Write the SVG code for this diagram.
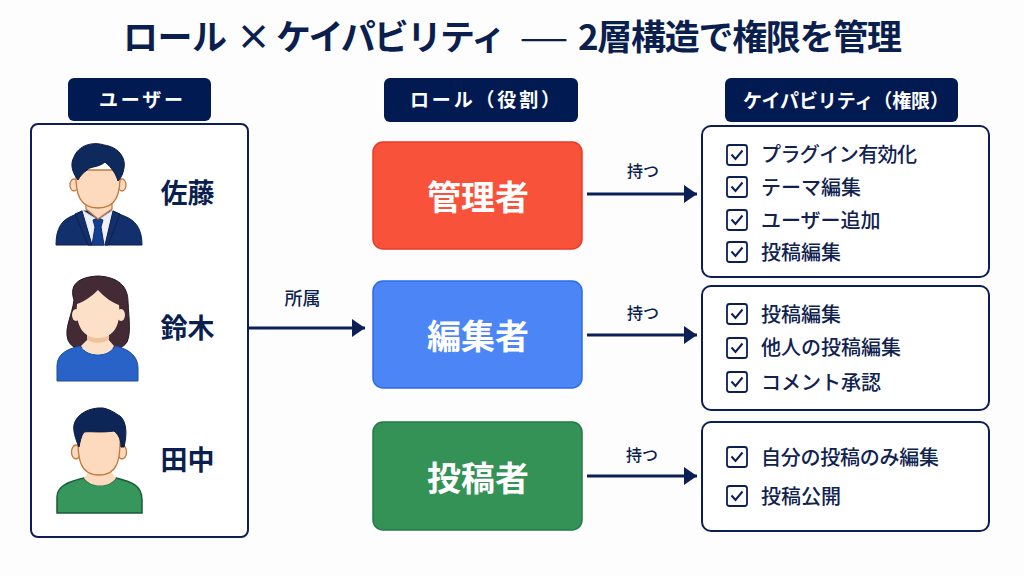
<svg xmlns="http://www.w3.org/2000/svg" width="1024" height="576" viewBox="0 0 1024 576">
<style>
text{font-family:"Noto Sans CJK JP","Noto Sans",sans-serif;font-weight:700}
.hd{fill:#021a52}
.hdt{fill:#fff;font-size:19px;text-anchor:middle}
.panel{fill:#fff;stroke:#0b1f56;stroke-width:2}
.name{fill:#0b1f4f;font-size:27px;text-anchor:middle}
.role{fill:#fff;font-size:34px;text-anchor:middle}
.lbl{fill:#0b1f4f;font-size:16px;font-weight:500;text-anchor:middle}
.item{fill:#0f2250;font-size:20px;font-weight:500}
.cb{fill:#fff;stroke:#0b1f56;stroke-width:1.8}
.ck{fill:none;stroke:#0b1f56;stroke-width:2}
.line{stroke:#0b1f56;stroke-width:3;fill:none}
.skin{fill:#fdd9bd;stroke:#c27a3e;stroke-width:1.3}
</style>
<defs>
<marker id="arrow" markerUnits="userSpaceOnUse" markerWidth="14" markerHeight="18" refX="13" refY="9" orient="auto"><path d="M0 0L13 9L0 18Z" fill="#0b1f56"/></marker>
<g id="check"><rect class="cb" x="-10" y="-10" width="20" height="20" rx="2.5"/><path class="ck" d="M-5.5 -0.5L-1.5 4L5.5 -4.5"/></g>
</defs>
<rect width="1024" height="576" fill="#fdfdfe"/>
<g id="title" fill="#0b1f4f" font-size="35">
<text x="123" y="50" textLength="104">ロール</text>
<text x="236" y="50">×</text>
<text x="276" y="50" textLength="230">ケイパビリティ</text>
<text x="519" y="50" textLength="50" lengthAdjust="spacingAndGlyphs" style="font-weight:400">—</text>
<text x="578" y="50" textLength="324">2層構造で権限を管理</text>
</g>

<g id="header-users"><rect class="hd" x="68" y="78" width="143" height="43" rx="6"/><text class="hdt" x="141" y="107" textLength="84">ユーザー</text></g>
<g id="header-roles"><rect class="hd" x="384" y="78" width="194" height="44" rx="6"/><text class="hdt" x="485" y="107" textLength="150">ロール（役割）</text></g>
<g id="header-caps"><rect class="hd" x="725" y="78" width="233" height="44" rx="6"/><text class="hdt" x="846" y="108" textLength="206">ケイパビリティ（権限）</text></g>

<g id="users-panel"><rect class="panel" x="31" y="124" width="217" height="413" rx="7"/></g>

<g id="user-sato">
<path d="M56 245C56 228 62 220 72 216L84 211H112L124 216C135 220 142 228 142 245Z" fill="#12306b" stroke="#0b1f4f"/>
<path d="M82 210L98 220L113 210L116 217L105 245H92L79 217Z" fill="#eef1fb" stroke="#b9c4e0"/>
<path d="M93 220L98 218L103 220L101 227L104 245H92L95 227Z" fill="#123f90" stroke="#0b2a6a"/>
<path d="M75 214L82 211L92 245H88ZM120 214L113 211L105 245H108Z" fill="#12306b" stroke="#0b1f4f"/>
<path d="M86 197H112V209L98 219L86 209Z" class="skin"/>
<ellipse cx="74" cy="185" rx="4" ry="6" class="skin"/><ellipse cx="122" cy="185" rx="4" ry="6" class="skin"/>
<path d="M76 170C75 195 80 208 98 208C116 208 121 195 120 170Z" class="skin"/>
<path d="M78 180C72 172 70 164 74 157C78 146 92 141 104 145C118 147 126 157 124 168C123 174 121 178 118 181C116 174 112 168 105 162C98 168 90 166 87 170C83 173 80 176 78 180Z" fill="#0e2a5c" stroke="#0b1a3e"/>
</g>
<text class="name" x="187.500" y="203">佐藤</text>

<g id="user-suzuki">
<path d="M74 300C69 285 78 277 98 276C118 277 128 286 128 302C129 320 131 333 127 342C122 350 112 350 108 345H88C80 350 72 349 68 340C64 328 72 316 74 300Z" fill="#432a34" stroke="#1f1720"/>
<path d="M57 381V366C57 354 67 349 80 346C88 358 108 358 115 346C129 349 138 356 138 368V381Z" fill="#2a63c8" stroke="#1d4c9a"/>
<path d="M81 346C88 357 108 357 114 346L108 339H88Z" fill="#fde0c8"/>
<path d="M87 332H109V339C105 344 91 344 87 339Z" fill="#f3c29c"/>
<ellipse cx="76" cy="315" rx="4" ry="6" fill="#fde0c8"/><ellipse cx="121" cy="315" rx="4" ry="6" fill="#fde0c8"/>
<path d="M77 304C84 302 92 296 98 290C104 297 113 303 119 305C121 325 114 338 98 338C83 338 75 325 77 304Z" fill="#fde0c8"/>
</g>
<text class="name" x="187.500" y="338">鈴木</text>

<g id="user-tanaka">
<path d="M57 513V497C57 487 66 482 84 478C90 487 110 487 116 478C134 482 142 487 142 500V513Z" fill="#36965c" stroke="#1b5a38" stroke-width="1.500"/>
<path d="M84 478C90 488 110 488 116 478L110 470H90Z" fill="#fcd9bf"/>
<ellipse cx="76" cy="452" rx="4.500" ry="7" class="skin"/><ellipse cx="122" cy="452" rx="4.500" ry="7" class="skin"/>
<path d="M78 430C77 460 80 475 99 475C118 475 121 460 120 430Z" class="skin"/>
<path d="M79 447C75 438 73 430 74 425C76 414 90 407 103 408C112 410 116 414 120 416C127 422 127 435 124 447H121C121 440 119 435 114 431C101 433 90 431 84 432C81 436 80 442 79 447Z" fill="#0e2558" stroke="#0b1a3e"/>
</g>
<text class="name" x="187.500" y="470">田中</text>

<g id="role-admin"><rect x="373" y="142" width="209" height="107" rx="10" fill="#f9523b" stroke="#e83a28" stroke-width="1.500"/><text class="role" x="478" y="210">管理者</text></g>
<g id="role-editor"><rect x="373" y="281" width="209" height="107" rx="10" fill="#4b85f6" stroke="#2f6ae8" stroke-width="1.500"/><text class="role" x="478" y="349">編集者</text></g>
<g id="role-author"><rect x="373" y="422" width="209" height="108" rx="10" fill="#349257" stroke="#247a45" stroke-width="1.500"/><text class="role" x="478" y="491">投稿者</text></g>

<g id="caps-admin"><rect class="panel" x="702" y="126" width="287" height="151" rx="9"/>
<use href="#check" x="737" y="155"/><text class="item" x="761" y="162" textLength="156">プラグイン有効化</text>
<use href="#check" x="737" y="187"/><text class="item" x="761" y="195">テーマ編集</text>
<use href="#check" x="737" y="220"/><text class="item" x="761" y="228">ユーザー追加</text>
<use href="#check" x="737" y="252"/><text class="item" x="761" y="260">投稿編集</text></g>
<g id="caps-editor"><rect class="panel" x="702" y="286" width="287" height="124" rx="9"/>
<use href="#check" x="737" y="314"/><text class="item" x="761" y="322">投稿編集</text>
<use href="#check" x="737" y="348"/><text class="item" x="761" y="355">他人の投稿編集</text>
<use href="#check" x="737" y="382"/><text class="item" x="761" y="390">コメント承認</text></g>
<g id="caps-author"><rect class="panel" x="702" y="422" width="287" height="109" rx="9"/>
<use href="#check" x="737" y="457"/><text class="item" x="761" y="465" textLength="178">自分の投稿のみ編集</text>
<use href="#check" x="737" y="496"/><text class="item" x="761" y="504">投稿公開</text></g>

<g id="connectors">
<path class="line" d="M248 328H365" marker-end="url(#arrow)"/>
<path class="line" d="M587 194H697" marker-end="url(#arrow)"/>
<path class="line" d="M587 335H697" marker-end="url(#arrow)"/>
<path class="line" d="M587 476H697" marker-end="url(#arrow)"/>
<text class="lbl" x="302.500" y="305" style="font-size:18px">所属</text>
<text class="lbl" x="643" y="177">持つ</text>
<text class="lbl" x="643" y="319">持つ</text>
<text class="lbl" x="642" y="461">持つ</text>
</g>
</svg>
